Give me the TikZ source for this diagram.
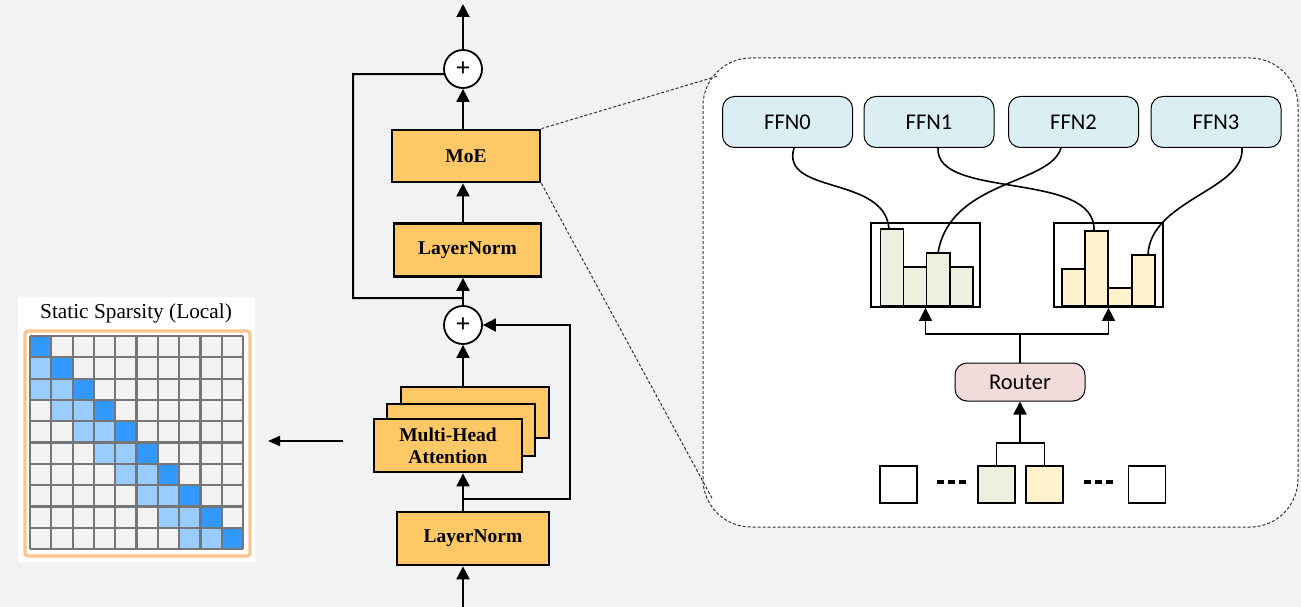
\documentclass[tikz,border=0pt]{standalone}
\usepackage{fontspec}
\setmainfont{Liberation Serif}
\newfontfamily\ffnfont{Carlito}
\usetikzlibrary{arrows.meta,calc}

\definecolor{bg}{RGB}{241,242,244}
\definecolor{boxorange}{RGB}{255,200,102}
\definecolor{ffnblue}{RGB}{218,238,243}
\definecolor{routerpink}{RGB}{242,220,219}
\definecolor{expgreen}{RGB}{235,241,222}
\definecolor{expyellow}{RGB}{255,242,204}
\definecolor{darkblue}{RGB}{51,153,255}
\definecolor{lightblue}{RGB}{153,204,255}
\definecolor{cellgray}{RGB}{242,242,242}
\definecolor{gridgray}{RGB}{118,118,118}
\definecolor{framepeach}{RGB}{250,196,143}
\definecolor{dashgray}{RGB}{50,50,50}

\begin{document}
\begin{tikzpicture}[x=1pt,y=-1pt,
  blockbox/.style={draw,line width=2.8pt,fill=boxorange,inner sep=0pt,align=center,
    font=\fontsize{19.5}{22}\selectfont\bfseries},
  addnode/.style={draw,circle,line width=1.8pt,fill=white,minimum size=38pt,inner sep=0pt,
    font=\fontsize{26}{26}\selectfont\bfseries},
  mainline/.style={line width=2pt},
  mainarrow/.style={line width=2pt,-{Triangle[length=13pt,width=13pt]}},
  ffnbox/.style={draw,line width=1pt,fill=ffnblue,rounded corners=12pt,minimum width=130pt,
    minimum height=51pt,inner sep=0pt,font=\ffnfont\fontsize{22.5}{22}\selectfont},
  routerbox/.style={draw,line width=1pt,fill=routerpink,rounded corners=12pt,minimum width=130pt,
    minimum height=38pt,inner sep=0pt,font=\ffnfont\fontsize{22.5}{22}\selectfont},
  histbox/.style={draw,line width=1.8pt,inner sep=0pt},
  bar/.style={draw,line width=1.5pt},
  token/.style={draw,line width=1.7pt,minimum size=37pt,inner sep=0pt},
  thinline/.style={line width=1.7pt},
  thinarrow/.style={line width=1.7pt,-{Triangle[length=13pt,width=13pt]}},
  curveline/.style={line width=1.6pt},
  zoomline/.style={dashgray,line width=1pt,dash pattern=on 3pt off 2pt},
]
\useasboundingbox (0,0) rectangle (1301,607);
\fill[bg] (0,0) rectangle (1301,607);

% ---------------- sparsity mask ----------------
\node[fill=white,minimum width=237pt,minimum height=265pt,inner sep=0pt] (sparsity) at (136.5,429.5) {};
\node (masktitle) at (136,313) {\fontsize{21.3}{23}\selectfont Static Sparsity (Local)};
\draw[framepeach,line width=3.2pt,rounded corners=3pt] (25,331) rectangle (250,556);
\foreach \r in {0,...,9} {
  \foreach \c in {0,...,9} {
    \pgfmathtruncatemacro\d{\r-\c}
    \ifnum\d=0 \def\cc{darkblue}\else
      \ifnum\d>0 \ifnum\d<3 \def\cc{lightblue}\else\def\cc{cellgray}\fi
      \else\def\cc{cellgray}\fi
    \fi
    \fill[\cc] (30+\c*21.3,336+\r*21.3) rectangle ++(21.3,21.3);
  }
}
\foreach \i in {0,...,10} {
  \draw[gridgray,line width=2.2pt] (30+\i*21.3,336) -- (30+\i*21.3,549);
  \draw[gridgray,line width=2.2pt] (30,336+\i*21.3) -- (243,336+\i*21.3);
}

% ---------------- transformer block ----------------
\node[addnode] (addtop) at (463,69) {+};
\node[blockbox,minimum width=148pt,minimum height=52pt] (moe) at (466,156) {MoE};
\node[blockbox,minimum width=147pt,minimum height=53pt] (ln1) at (467.5,250) {LayerNorm};
\node[addnode] (addmid) at (463,325) {+};
\node[blockbox,minimum width=148pt,minimum height=51pt] (mha3) at (475,412.5) {};
\node[blockbox,minimum width=148pt,minimum height=52pt] (mha2) at (461,430) {};
\node[blockbox,minimum width=148pt,minimum height=53pt] (mha1) at (448,445.5) {Multi-Head\\Attention};
\node[blockbox,minimum width=152pt,minimum height=53pt] (ln2) at (473,538.5) {LayerNorm};

\coordinate (blockout) at (463,4);
\coordinate (blockin) at (463,607);
\coordinate (skipa) at (463,298);
\coordinate (skipb) at (463,499);

\draw[mainarrow] (addtop.north) -- (blockout);
\draw[mainarrow] (moe.north -| addtop) -- (addtop.south);
\draw[mainarrow] (ln1.north -| addtop) -- (moe.south -| addtop);
\draw[mainarrow] (addmid.north) -- (ln1.south -| addmid);
\draw[mainarrow] (mha3.north -| addmid) -- (addmid.south);
\draw[mainarrow] (ln2.north -| addmid) -- (mha1.south -| addmid);
\draw[mainarrow] (blockin) -- (ln2.south -| addmid);
\draw[mainline] (skipa) -- (353,298) -- (353,74) -- (addtop.195);
\draw[mainarrow] (skipb) -- (570,499) -- (570,325) -- (addmid.east);

% mask arrow
\coordinate (attnout) at (343,441);
\coordinate (maskin) at (268,441);
\draw[line width=1.8pt,-{Triangle[length=12pt,width=10pt]}] (attnout) -- (maskin);

% ---------------- MoE detail ----------------
\draw[zoomline,fill=white,rounded corners=48pt] (703,58) rectangle (1298,527);
\coordinate (zoomtop) at (718,76);
\coordinate (zoombot) at (713,500);
\draw[zoomline] (moe.north east) -- (zoomtop);
\draw[zoomline] (moe.south east) -- (zoombot);

\node[ffnbox] (ffn0) at (787.5,122) {FFN0};
\node[ffnbox] (ffn1) at (929,122) {FFN1};
\node[ffnbox] (ffn2) at (1073.5,122) {FFN2};
\node[ffnbox] (ffn3) at (1216,122) {FFN3};

% gate score histograms
\node[histbox,minimum width=109pt,minimum height=84pt] (histL) at (925.5,265) {};
\node[histbox,minimum width=109pt,minimum height=84pt] (histR) at (1108.5,265) {};
\draw[bar,fill=expgreen] (880.5,229) rectangle (903.5,306);
\draw[bar,fill=expgreen] (903.5,267) rectangle (926.5,306);
\draw[bar,fill=expgreen] (926.5,253) rectangle (950,306);
\draw[bar,fill=expgreen] (950,267) rectangle (973,306);
\draw[bar,fill=expyellow] (1062,269) rectangle (1085,306);
\draw[bar,fill=expyellow] (1085,231) rectangle (1108,306);
\draw[bar,fill=expyellow] (1108,288) rectangle (1132,306);
\draw[bar,fill=expyellow] (1132,255) rectangle (1155,306);
\coordinate (gL1) at (889,229);
\coordinate (gL3) at (938,253);
\coordinate (gR2) at (1094,231);
\coordinate (gR4) at (1148,255);

% routed experts
\draw[curveline] ([xshift=6.5pt]ffn0.south) .. controls (780,195) and (885,175) .. (gL1);
\draw[curveline] ([xshift=9pt]ffn1.south) .. controls (935,200) and (1097,170) .. (gR2);
\draw[curveline] ([xshift=-12.5pt]ffn2.south) .. controls (1050,185) and (950,180) .. (gL3);
\draw[curveline] ([xshift=26pt]ffn3.south) .. controls (1245,190) and (1150,200) .. (gR4);

\node[routerbox] (router) at (1020,382) {Router};
\coordinate (rsplit) at (1020,334);
\draw[thinline] (router.north) -- (rsplit);
\draw[thinarrow] (rsplit) -| (histL.south);
\draw[thinarrow] (rsplit) -| (histR.south);

% tokens
\node[token,fill=white] (tok0) at (898.5,484.5) {};
\node[token,fill=expgreen] (tokg) at (996.5,484.5) {};
\node[token,fill=expyellow] (toky) at (1044.5,484.5) {};
\node[token,fill=white] (tokn) at (1147,484.5) {};
\draw[line width=3.4pt,dash pattern=on 7pt off 4pt] (937,482) -- (966,482);
\draw[line width=3.4pt,dash pattern=on 7pt off 4pt] (1084,482) -- (1113,482);
\coordinate (tsplit) at (1020,443);
\draw[thinline] (tokg.north) |- (tsplit) -| (toky.north);
\draw[thinarrow] (tsplit) -- (router.south);
\end{tikzpicture}
\end{document}
